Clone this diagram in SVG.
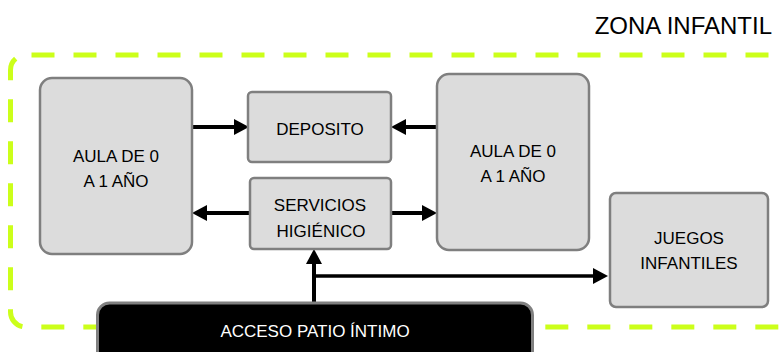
<svg xmlns="http://www.w3.org/2000/svg" width="782" height="352" viewBox="0 0 782 352">
<style>
.box{fill:#dcdcdc;stroke:#7f7f7f;stroke-width:2.5}
.t{font-family:"Liberation Sans",Arial,sans-serif;font-size:17px;fill:#000;text-anchor:middle}
.c{stroke:#000;stroke-width:4;fill:none}
</style>
<defs>
<marker id="ah" markerUnits="userSpaceOnUse" markerWidth="16" markerHeight="16" refX="7" refY="8" orient="auto" viewBox="0 0 16 16">
<path d="M0,0 L15,8 L0,16 z" fill="#000"/>
</marker>
</defs>
<rect width="782" height="352" fill="#fff"/>
<text x="772" y="34" style="font-family:'Liberation Sans',Arial,sans-serif;font-size:24px;text-anchor:end">ZONA INFANTIL</text>
<rect id="zona" x="10.5" y="55" width="790" height="272" rx="15" fill="none" stroke="#ccff1a" stroke-width="5" stroke-dasharray="23 19" stroke-dashoffset="-6"/>
<g id="connectors">
<line class="c" x1="192" y1="127" x2="241" y2="127" marker-end="url(#ah)"/>
<line class="c" x1="437" y1="127" x2="399" y2="127" marker-end="url(#ah)"/>
<line class="c" x1="250" y1="213" x2="200" y2="213" marker-end="url(#ah)"/>
<line class="c" x1="391" y1="213" x2="429" y2="213" marker-end="url(#ah)"/>
<line class="c" x1="314" y1="303" x2="314" y2="257" marker-end="url(#ah)"/>
<line class="c" style="stroke-width:3.5" x1="314" y1="276" x2="600" y2="276" marker-end="url(#ah)"/>
</g>
<g id="aula1">
<rect class="box" x="40" y="78" width="152" height="176" rx="12"/>
<text class="t" x="116" y="162">AULA DE 0</text>
<text class="t" x="116" y="187">A 1 AÑO</text>
</g>
<g id="deposito">
<rect class="box" x="248" y="92" width="143" height="70" rx="4"/>
<text class="t" x="320" y="135">DEPOSITO</text>
</g>
<g id="aula2">
<rect class="box" x="437" y="74" width="152" height="176" rx="12"/>
<text class="t" x="513" y="157">AULA DE 0</text>
<text class="t" x="513" y="182">A 1 AÑO</text>
</g>
<g id="servicios">
<rect class="box" x="250" y="178" width="141" height="71" rx="4"/>
<text class="t" x="320" y="211">SERVICIOS</text>
<text class="t" x="321" y="237">HIGIÉNICO</text>
</g>
<g id="juegos">
<rect class="box" x="610" y="193" width="158" height="114" rx="6"/>
<text class="t" x="689" y="244">JUEGOS</text>
<text class="t" x="689" y="269">INFANTILES</text>
</g>
<g id="acceso">
<rect x="97.5" y="303" width="435" height="70" rx="12" fill="#000" stroke="#808080" stroke-width="3"/>
<text class="t" x="315" y="337" style="fill:#fff">ACCESO PATIO ÍNTIMO</text>
</g>
</svg>
